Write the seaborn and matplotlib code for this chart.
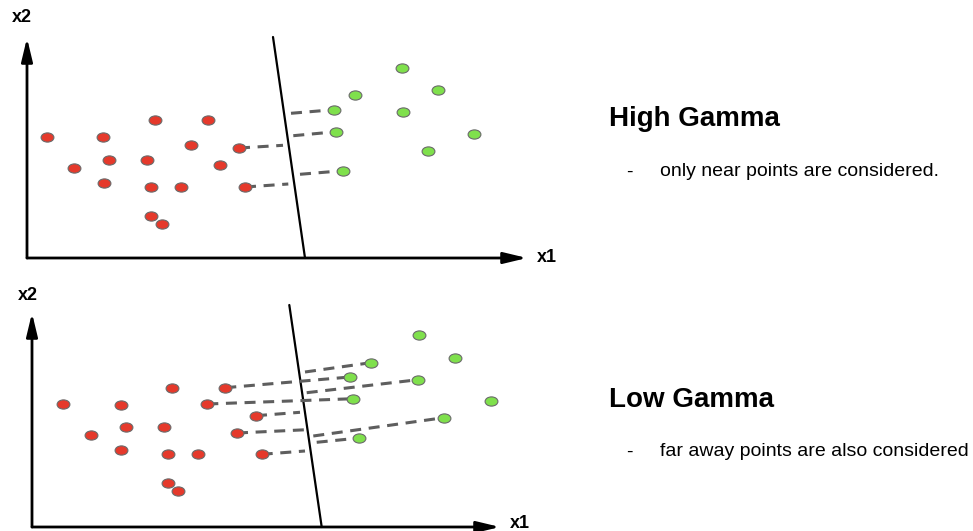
import numpy as np
import matplotlib
matplotlib.use("Agg")
import matplotlib.pyplot as plt
from matplotlib.path import Path
from matplotlib.transforms import Affine2D
import seaborn as sns
import pandas as pd

sns.set_theme(style="white")
plt.rcParams["font.family"] = ["Liberation Sans", "DejaVu Sans"]
plt.rcParams["text.color"] = "black"

# ---- data (x1, x2 measured from each panel's origin) ----
# high gamma panel
hi_red_x1 = [19.7, 76.3, 128, 181.3, 163.7, 212, 47.3, 82.3, 120.3, 193, 77, 124, 153.7, 218, 124, 134.7]
hi_red_x2 = [121.3, 121, 138, 138, 113.3, 110, 90, 97.7, 97.7, 92.7, 75.3, 71, 71, 71, 42.3, 34]
hi_green_x1 = [375.3, 327.7, 411.3, 306.7, 375.7, 309.3, 447.3, 400.7, 316]
hi_green_x2 = [190.3, 162.7, 167.7, 148.3, 145.7, 126.3, 124, 107.3, 87.3]
hi_boundary_x1 = [246, 278]
hi_boundary_x2 = [221, 0]
# dashed distance lines: start -> end
hi_dash_x1_a = [212, 264, 266.3, 273, 218]
hi_dash_x2_a = [110, 144.7, 122.3, 83.7, 71]
hi_dash_x1_b = [256, 306.7, 309.3, 316, 261.3]
hi_dash_x2_b = [112.7, 148.3, 126.3, 87.3, 74]

# low gamma panel
lo_red_x1 = [31.3, 88.7, 139.7, 193.3, 175.3, 224, 94, 131.7, 59, 205, 88.7, 135.7, 165.7, 229.7, 136, 146.3]
lo_red_x2 = [123, 122.3, 139.3, 139.3, 123, 111.3, 99.7, 99.7, 91.7, 94, 76.7, 72.7, 72.7, 72.7, 43.7, 36]
lo_green_x1 = [387, 423, 338.7, 318, 386, 321.3, 458.7, 411.7, 327.3]
lo_green_x2 = [191.7, 169.3, 164.3, 150, 147.3, 128.3, 126, 109.3, 89]
lo_boundary_x1 = [257.3, 289.7]
lo_boundary_x2 = [222, 0]
lo_dash_x1_a = [193.3, 273, 274.7, 175.3, 224, 205, 281.3, 284.7, 229.7]
lo_dash_x2_a = [139.3, 155, 134.3, 123, 111.3, 94, 91, 84.7, 72.7]
lo_dash_x1_b = [318, 338.7, 386, 321.3, 268, 274.7, 411.7, 327.3, 273]
lo_dash_x2_b = [150, 164.3, 147.3, 128.3, 114.7, 97.3, 109.3, 89, 76]

W, H = 973, 531
fig = plt.figure(figsize=(9.73, 5.31), dpi=100)

RED = "#e5392b"
GREEN = "#7fe04c"
EDGE = "#6a6a6a"
DASH = "#5e5e5e"

# slightly flattened circle marker
ell = Path.unit_circle().transformed(Affine2D().scale(1.0, 0.72))


def panel(rect_px, origin_px, red, green, bnd, dash, ytip, xtip):
    left, top, right, bottom = rect_px
    ox, oy = origin_px
    ax = fig.add_axes([left / W, 1 - bottom / H, (right - left) / W, (bottom - top) / H])
    ax.axis("off")

    # axes arrows
    arrow = dict(arrowstyle="-|>,head_length=1.0,head_width=0.24", color="black", lw=2,
                 mutation_scale=14, shrinkA=0, shrinkB=0)
    ax.annotate("", xy=(0, ytip), xytext=(0, 0), arrowprops=arrow)
    ax.annotate("", xy=(xtip, 0), xytext=(0, 0), arrowprops=arrow)

    # boundary
    ax.plot(bnd[0], bnd[1], color="black", lw=1.6, zorder=2)

    # dashed distance lines
    for xa, ya, xb, yb in zip(*dash):
        ax.plot([xa, xb], [ya, yb], color=DASH, lw=2.2, dashes=(3.6, 2.5),
                solid_capstyle="butt", zorder=3)

    df_r = pd.DataFrame({"x1": red[0], "x2": red[1]})
    df_g = pd.DataFrame({"x1": green[0], "x2": green[1]})
    sns.scatterplot(data=df_r, x="x1", y="x2", ax=ax, marker=ell, s=85,
                    color=RED, edgecolor=EDGE, linewidth=0.8, zorder=4)
    sns.scatterplot(data=df_g, x="x1", y="x2", ax=ax, marker=ell, s=85,
                    color=GREEN, edgecolor=EDGE, linewidth=0.8, zorder=4)
    ax.set_xlim(left - ox, right - ox)
    ax.set_ylim(oy - bottom, oy - top)
    ax.axis("off")
    return ax


ax1 = panel((0, 0, 580, 268), (27, 258),
            (hi_red_x1, hi_red_x2), (hi_green_x1, hi_green_x2),
            (hi_boundary_x1, hi_boundary_x2),
            (hi_dash_x1_a, hi_dash_x2_a, hi_dash_x1_b, hi_dash_x2_b),
            220, 500)
ax1.text(-5, 240, "x2", fontsize=13, fontweight="bold", ha="center", va="center", color="black")
ax1.text(520, 0, "x1", fontsize=13, fontweight="bold", ha="center", va="center", color="black")

ax2 = panel((0, 280, 580, 531), (32, 527),
            (lo_red_x1, lo_red_x2), (lo_green_x1, lo_green_x2),
            (lo_boundary_x1, lo_boundary_x2),
            (lo_dash_x1_a, lo_dash_x2_a, lo_dash_x1_b, lo_dash_x2_b),
            214, 468)
ax2.text(-4, 232, "x2", fontsize=13, fontweight="bold", ha="center", va="center", color="black")
ax2.text(488, 4, "x1", fontsize=13, fontweight="bold", ha="center", va="center", color="black")

# right hand notes
def ftext(px, py, s, **kw):
    fig.text(px / W, 1 - py / H, s, va="center", color="black", **kw)

ftext(609, 119, "High Gamma", fontsize=20, fontweight="bold")
ftext(626, 172, "-", fontsize=14)
ftext(660, 172, "only near points are considered.", fontsize=14)
ftext(609, 400, "Low Gamma", fontsize=20, fontweight="bold")
ftext(626, 452, "-", fontsize=14)
ftext(660, 452, "far away points are also considered", fontsize=14)

fig.savefig("out.png", dpi=100)
